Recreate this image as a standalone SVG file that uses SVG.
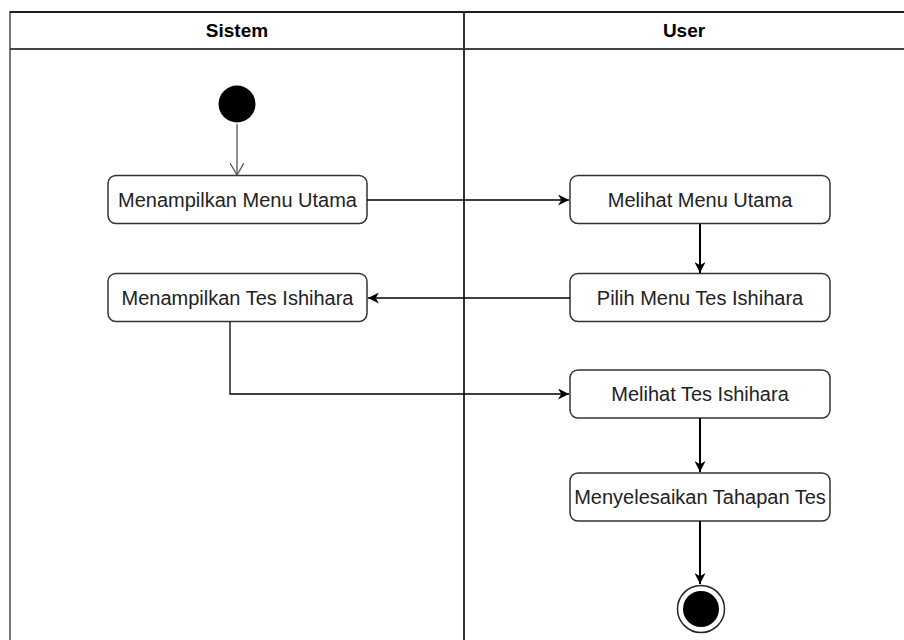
<svg xmlns="http://www.w3.org/2000/svg" width="904" height="640" viewBox="0 0 904 640">
<style>
.lane{fill:none;stroke:#000;stroke-width:1.5}
.div{stroke:#333;stroke-width:2}
.hdr{font-family:"Liberation Sans",Arial,sans-serif;font-size:19px;font-weight:bold;text-anchor:middle;fill:#000}
.box{fill:#fff;stroke:#333;stroke-width:1.5}
.lbl{font-family:"Liberation Sans",Arial,sans-serif;font-size:20px;text-anchor:middle;fill:#222}
.edge{fill:none;stroke:#000;stroke-width:1.3}
</style>
<defs>
<marker id="tri" viewBox="0 0 10 10" refX="10" refY="5" markerWidth="11" markerHeight="11" markerUnits="userSpaceOnUse" orient="auto">
<path d="M0,0 L10,5 L0,10 L3,5 Z" fill="#000"/>
</marker>
<marker id="open" viewBox="0 0 12 14" refX="12" refY="7" markerWidth="12" markerHeight="14" markerUnits="userSpaceOnUse" orient="auto">
<path d="M0,0 L12,7 L0,14" fill="none" stroke="#555" stroke-width="1.3"/>
</marker>
</defs>
<rect width="904" height="640" fill="#fff"/>
<g id="pool">
<rect class="lane" x="10" y="12" width="910" height="640" style="stroke:#777;stroke-width:2"/>
<line x1="10" y1="12" x2="904" y2="12" stroke="#000" stroke-width="1.5"/>
<line x1="10" y1="49" x2="904" y2="49" stroke="#444" stroke-width="2"/>
<line class="div" x1="464" y1="12" x2="464" y2="640"/>
<text class="hdr" x="237" y="37">Sistem</text>
<text class="hdr" x="684" y="37">User</text>
</g>
<g id="start"><circle cx="237" cy="104" r="18.5" fill="#000"/></g>
<g id="n1"><rect class="box" x="108" y="175.5" width="259" height="48" rx="8"/><text class="lbl" x="237.5" y="206.5">Menampilkan Menu Utama</text></g>
<g id="n2"><rect class="box" x="570" y="175.5" width="260" height="48" rx="8"/><text class="lbl" x="700" y="206.5">Melihat Menu Utama</text></g>
<g id="n3"><rect class="box" x="570" y="273.5" width="260" height="48" rx="8"/><text class="lbl" x="700" y="304.5">Pilih Menu Tes Ishihara</text></g>
<g id="n4"><rect class="box" x="108" y="273.5" width="259" height="48" rx="8"/><text class="lbl" x="237.5" y="304.5">Menampilkan Tes Ishihara</text></g>
<g id="n5"><rect class="box" x="570" y="370" width="260" height="48" rx="8"/><text class="lbl" x="700" y="401">Melihat Tes Ishihara</text></g>
<g id="n6"><rect class="box" x="570" y="473" width="260" height="48" rx="8"/><text class="lbl" x="700" y="504">Menyelesaikan Tahapan Tes</text></g>
<g id="end"><circle cx="701" cy="609" r="23.5" fill="#fff" stroke="#222" stroke-width="1.5"/><circle cx="701" cy="609" r="18" fill="#000"/></g>
<g id="edges">
<line class="edge" x1="237" y1="124" x2="237" y2="175" marker-end="url(#open)" style="stroke:#555"/>
<line class="edge" x1="367" y1="200" x2="569" y2="200" marker-end="url(#tri)"/>
<line class="edge" x1="700" y1="224" x2="700" y2="273" marker-end="url(#tri)" style="stroke-width:2"/>
<line class="edge" x1="570" y1="298" x2="368" y2="298" marker-end="url(#tri)"/>
<polyline class="edge" points="230,322 230,394 569,394" marker-end="url(#tri)"/>
<line class="edge" x1="700" y1="418" x2="700" y2="472" marker-end="url(#tri)" style="stroke-width:2"/>
<line class="edge" x1="700" y1="521" x2="700" y2="584" marker-end="url(#tri)" style="stroke-width:2"/>
</g>
</svg>
